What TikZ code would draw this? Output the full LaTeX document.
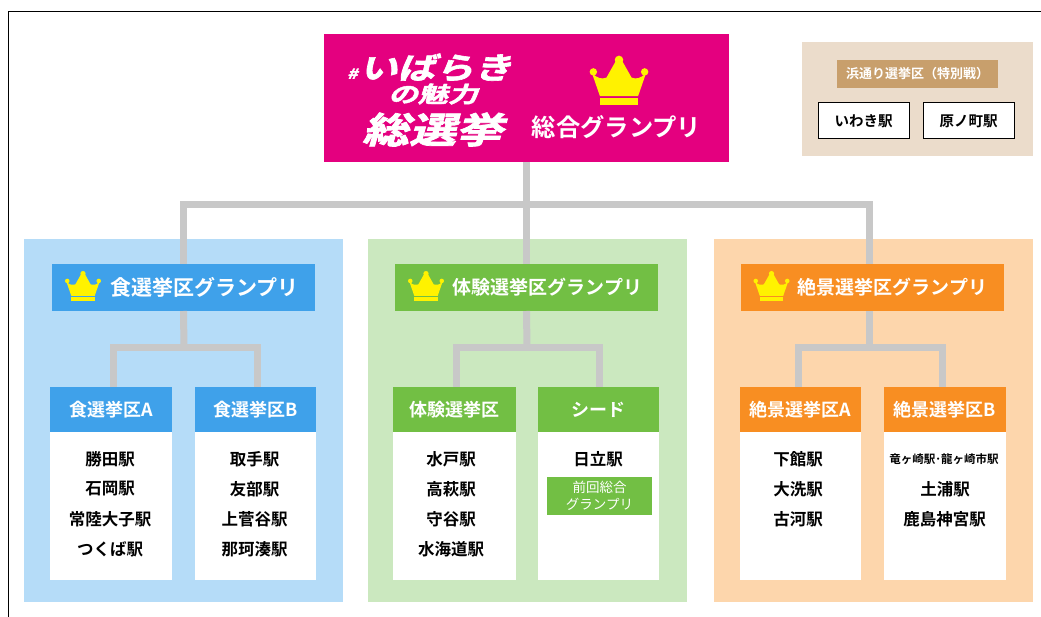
\documentclass[tikz,border=0pt]{standalone}
\usepackage{fontspec}
\setmainfont{Noto Sans CJK JP}[BoldFont={Noto Sans CJK JP Bold}]
\newfontfamily\slantjp{Noto Sans CJK JP Bold}[FakeSlant=0.22,FakeBold=2]
\newfontfamily\boldjp{Noto Sans CJK JP Bold}
\newfontfamily\regjp{Noto Sans CJK JP}
\definecolor{pinkc}{HTML}{E4007F}
\definecolor{bluep}{HTML}{B5DCF8}
\definecolor{blueh}{HTML}{3FA1EA}
\definecolor{greenp}{HTML}{CBE8BF}
\definecolor{greenh}{HTML}{72BF44}
\definecolor{orangep}{HTML}{FDD6AC}
\definecolor{orangeh}{HTML}{F88E22}
\definecolor{beigep}{HTML}{EBDCCB}
\definecolor{tanc}{HTML}{C89F6C}
\definecolor{linec}{HTML}{C8C8C8}
\definecolor{crownc}{HTML}{FFF200}
\tikzset{
  x=1pt,y=-1pt,
  every node/.style={inner sep=0pt,outer sep=0pt,align=center},
  panel/.style={fill=#1,draw=none},
  box/.style={fill=#1,draw=none,anchor=north west},
  conn/.style={draw=linec,line width=7pt,line cap=butt,line join=miter},
  headtxt/.style={text=white,font=\boldjp\fontsize{21}{21}\selectfont},
  headtxtb/.style={text=white,font=\boldjp\fontsize{19}{19}\selectfont},
  subtxt/.style={text=white,font=\boldjp\fontsize{18}{18}\selectfont},
  station/.style={text=black,font=\boldjp\fontsize{16.5}{16.5}\selectfont},
  hama/.style={fill=white,draw=black,line width=1pt,anchor=north west,font=\boldjp\fontsize{14.5}{14.5}\selectfont},
  crown/.pic={
    \fill[crownc] (-.95,-.42) .. controls (-.75,-.22) and (-.6,-.2) .. (-.44,-.26)
      -- (-.08,-.9) -- (.08,-.9) -- (.44,-.26) .. controls (.6,-.2) and (.75,-.22) .. (.95,-.42)
      -- (.67,.39) -- (-.67,.39) -- cycle;
    \fill[crownc] (-.9,-.46) circle (.13) (.9,-.46) circle (.13) (0,-.88) circle (.15);
    \fill[crownc] (-.67,.46) rectangle (.67,.70);
  }
}
\begin{document}
\begin{tikzpicture}
\useasboundingbox (0,0) rectangle (1041,617);
\fill[white] (0,0) rectangle (1041,617);
% frame
\draw[black,line width=1.6pt] (8.5,617) -- (8.5,11.5) -- (1041,11.5);
% panels
\fill[panel=bluep] (23.5,239.5) rectangle (343,602);
\fill[panel=greenp] (368,239.5) rectangle (687,602);
\fill[panel=orangep] (714,239.5) rectangle (1033,602);
\fill[panel=beigep] (802,42) rectangle (1033,156);
% top
\node[box=pinkc,minimum width=405pt,minimum height=128pt] (top) at (324,34) {};
\node[text=white,anchor=center,font=\slantjp\fontsize{30}{30}\selectfont] (t1) at (429.5,67.5) {\scalebox{1.27}[1]{{\fontsize{14}{14}\selectfont\#}\kern1.5ptいばらき}};
\node[text=white,anchor=center,font=\slantjp\fontsize{22}{22}\selectfont] (t2) at (433,94) {\scalebox{1.36}[1]{の魅力}};
\node[text=white,anchor=center,font=\slantjp\fontsize{36}{36}\selectfont] (t3) at (432.5,129.5) {\scalebox{1.3}[1]{総選挙}};
\node[text=white,anchor=center,font=\boldjp\fontsize{24.3}{24.3}\selectfont] (t4) at (616.5,127.5) {総合グランプリ};
\path (619,85) pic[scale=28.5] {crown};
% hama
\node[box=tanc,minimum width=161pt,minimum height=28pt] (hamahead) at (837,60) {};
\node[text=white,font=\boldjp\fontsize{13}{13}\selectfont] at (hamahead.center) {浜通り選挙区（特別戦）};
\node[hama,minimum width=91pt,minimum height=36pt] (iwaki) at (818,103) {いわき駅};
\node[hama,minimum width=91pt,minimum height=36pt] (haranomachi) at (923,103) {原ノ町駅};
% heads
\node[box=blueh,minimum width=263pt,minimum height=47pt] (foodh) at (52,264) {};
\node[headtxt] (foodt) at (204.5,287.5) {食選挙区グランプリ};
\node[box=greenh,minimum width=263pt,minimum height=47pt] (exph) at (395,264) {};
\node[headtxtb] (expt) at (547.5,287.5) {体験選挙区グランプリ};
\node[box=orangeh,minimum width=263pt,minimum height=47pt] (sceneh) at (741,264) {};
\node[headtxtb] (scenet) at (892.5,287.5) {絶景選挙区グランプリ};
\path (83,289) pic[scale=17.5] {crown};
\path (426,289) pic[scale=17.5] {crown};
\path (771.5,289) pic[scale=17.5] {crown};
% body
\foreach \nm/\xx/\ww/\cc in {fa/50/122/blueh,fb/195/121/blueh,ea/393/123/greenh,eb/538/121/greenh,sa/740/121/orangeh,sb/884/122/orangeh}{
  \fill[white] (\xx,432) rectangle +(\ww,148);
  \node[box=\cc,minimum width=\ww pt,minimum height=45pt] (\nm) at (\xx,387) {};
}
\node[subtxt] at (fa.center) {食選挙区A};
\node[subtxt] at (fb.center) {食選挙区B};
\node[subtxt] at (ea.center) {体験選挙区};
\node[subtxt] at (eb.center) {シード};
\node[subtxt] at (sa.center) {絶景選挙区A};
\node[subtxt] at (sb.center) {絶景選挙区B};
% stations
\node[station] at (110,459) {勝田駅};
\node[station] at (110,489) {石岡駅};
\node[station] at (110,519) {常陸大子駅};
\node[station] at (110,549) {つくば駅};
\node[station] at (254.5,459) {取手駅};
\node[station] at (254.5,489) {友部駅};
\node[station] at (254.5,519) {上菅谷駅};
\node[station] at (254.5,549) {那珂湊駅};
\node[station] at (451,459) {水戸駅};
\node[station] at (451,489) {高萩駅};
\node[station] at (451,519) {守谷駅};
\node[station] at (451,549) {水海道駅};
\node[station] at (598,459) {日立駅};
\node[box=greenh,minimum width=105pt,minimum height=38pt] (prev) at (547,477) {};
\node[text=white,font=\regjp\fontsize{13.5}{17}\selectfont] at (prev.center) {前回総合\\グランプリ};
\node[station] at (798,459) {下館駅};
\node[station] at (798,489) {大洗駅};
\node[station] at (798,519) {古河駅};
\node[station,font=\boldjp\fontsize{11.5}{12}\selectfont] at (944,459) {竜ヶ崎駅･龍ヶ崎市駅};
\node[station] at (945,489) {土浦駅};
\node[station] at (944.5,519) {鹿島神宮駅};
% connectors
\coordinate (bus) at (527,205);
\draw[conn] (top.south) -- (exph.north);
\draw[conn] (foodh.north) |- (bus) -| ([xshift=-3.5pt]sceneh.north);
\coordinate (fbus) at (184,348);
\draw[conn] (foodh.south) -- (fbus);
\draw[conn] ([xshift=2pt]fa.north) |- (fbus) -| ([xshift=2pt]fb.north);
\coordinate (ebus) at (527,348);
\draw[conn] (exph.south) -- (ebus);
\draw[conn] ([xshift=2pt]ea.north) |- (ebus) -| ([xshift=1pt]eb.north);
\coordinate (sbus) at (869,348);
\draw[conn] ([xshift=-3.5pt]sceneh.south) -- (sbus);
\draw[conn] ([xshift=-2.5pt]sa.north) |- (sbus) -| ([xshift=-3pt]sb.north);
\end{tikzpicture}
\end{document}
